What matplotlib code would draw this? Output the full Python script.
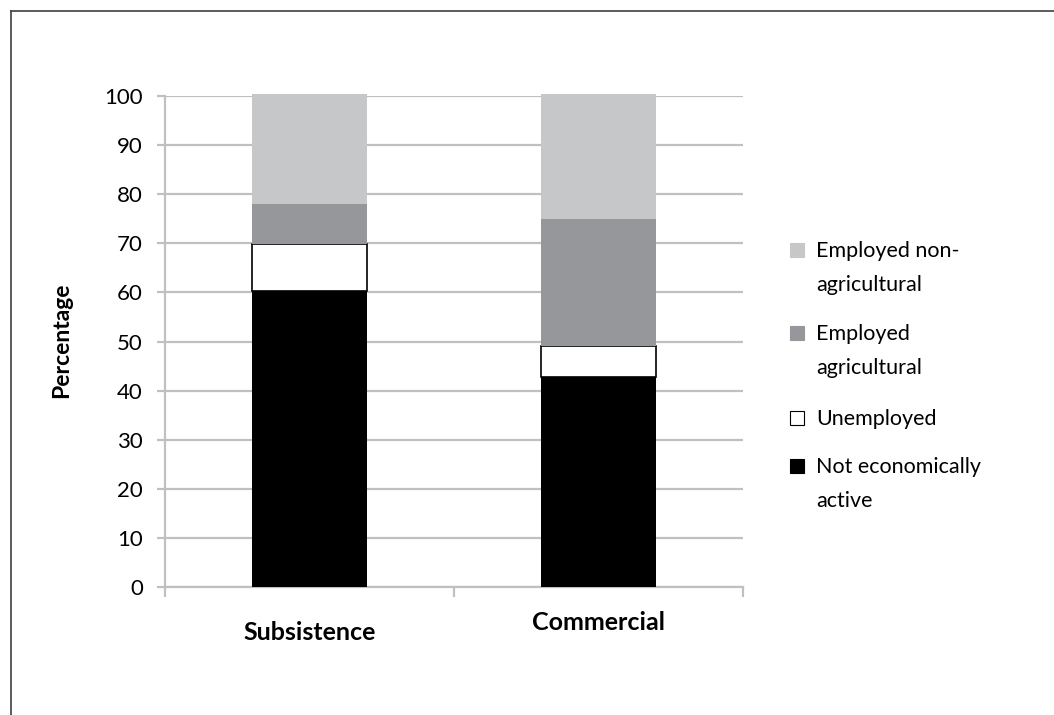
import matplotlib
matplotlib.use("Agg")
import matplotlib.pyplot as plt
import matplotlib.transforms as mtrans
from matplotlib.patches import Rectangle
from matplotlib.lines import Line2D
import numpy as np

categories = ["Subsistence", "Commercial"]
series_names = ["Not economically\nactive", "Unemployed", "Employed\nagricultural", "Employed non-\nagricultural"]
not_active = [60.2, 42.7]
unemployed = [9.6, 6.3]
employed_agri = [8.3, 25.9]
employed_nonagri = [22.3, 25.5]
yticks = [0, 10, 20, 30, 40, 50, 60, 70, 80, 90, 100]

series_values = [not_active, unemployed, employed_agri, employed_nonagri]
colors = ["#000000", "#ffffff", "#96979b", "#c6c7c9"]
edges = ["none", "#000000", "none", "none"]

plt.rcParams['font.family'] = ['Lato', 'DejaVu Sans']

W, H = 1054, 715
fig = plt.figure(figsize=(W / 100, H / 100), dpi=100)

def fx(px):
    return px / W

def fy(py):
    return 1 - py / H

ax = fig.add_axes([fx(165), fy(587), fx(743) - fx(165), fy(96) - fy(587)])

x = np.arange(len(categories))
bottom = np.zeros(len(categories))
for vals, c, e in zip(series_values, colors, edges):
    ax.bar(x, vals, width=0.4, bottom=bottom, color=c, edgecolor=e,
           linewidth=1.2 if e != "none" else 0, zorder=3, clip_on=False)
    bottom += np.array(vals)

grid_c = "#c0c0c0"
ax.set_xlim(-0.5, len(categories) - 0.5)
ax.set_ylim(0, 100)
ax.set_yticks(yticks)
ax.set_yticklabels([str(v) for v in yticks], fontsize=16)
ax.yaxis.grid(True, color=grid_c, linewidth=1.6, zorder=0)
ax.set_axisbelow(True)
ax.set_xticks(np.arange(-0.5, len(categories), 1.0))
ax.set_xticklabels([])
ax.tick_params(axis='y', length=6, width=1.6, color=grid_c, pad=10)
ax.tick_params(axis='x', length=7, width=1.6, color=grid_c)
for s in ["top", "right"]:
    ax.spines[s].set_visible(False)
for s in ["left", "bottom"]:
    ax.spines[s].set_color(grid_c)
    ax.spines[s].set_linewidth(1.6)

# category labels
trans = mtrans.blended_transform_factory(ax.transData, fig.transFigure)
label_y = [632, 622]
for xi, cat, ly in zip(x, categories, label_y):
    ax.text(xi, fy(ly), cat, transform=trans, ha='center', va='center',
            fontsize=18, fontweight='bold')

fig.text(fx(62), fy(340), "Percentage", rotation=90, ha='center', va='center',
         fontsize=16.5, fontweight='bold')

# legend (top entry first)
leg_order = [3, 2, 1, 0]
baselines = [257, 340, 425, 473]
for idx, base in zip(leg_order, baselines):
    sq = Rectangle((fx(790), fy(base)), fx(804) - fx(790), fy(base - 14) - fy(base),
                   transform=fig.transFigure, facecolor=colors[idx],
                   edgecolor="#000000" if edges[idx] != "none" else colors[idx],
                   linewidth=0.8)
    fig.patches.append(sq)
    for li, line in enumerate(series_names[idx].split("\n")):
        fig.text(fx(816), fy(base + 34 * li), line, ha='left', va='baseline', fontsize=15.5)

# frame
fig.add_artist(Line2D([fx(11), fx(1054)], [fy(11), fy(11)], color="#404040", linewidth=1.2))
fig.add_artist(Line2D([fx(11), fx(11)], [fy(11), fy(715)], color="#404040", linewidth=1.2))

fig.savefig("out.png", dpi=100)
